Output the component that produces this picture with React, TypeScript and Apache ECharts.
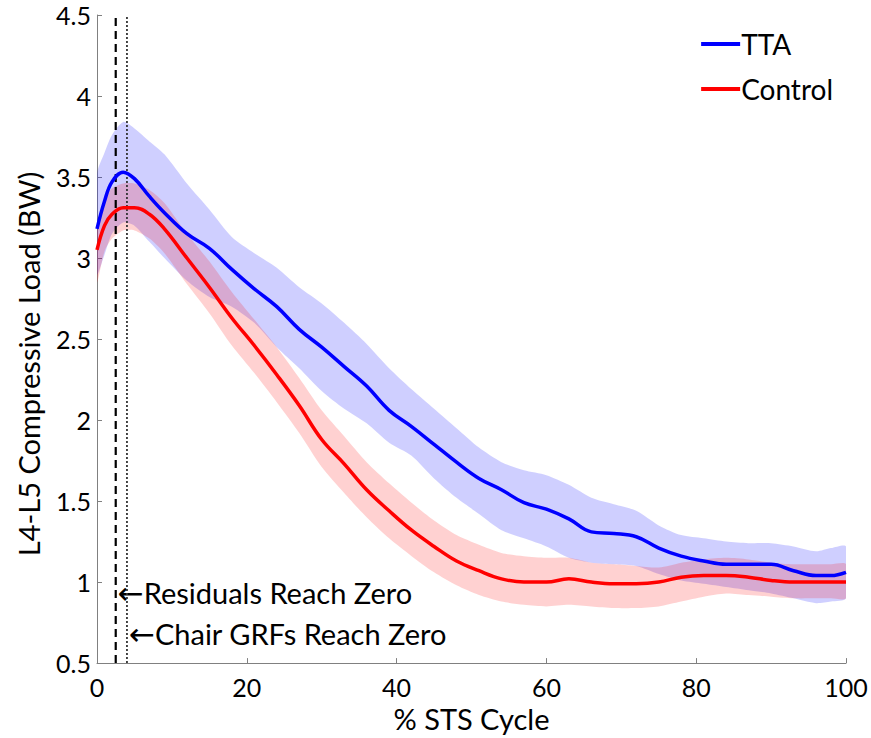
import React, { useEffect, useRef } from "react";
import * as echarts from "echarts";

const xs = [0, 1, 2, 3.5, 5, 7, 9, 12, 15, 18, 21, 24, 27, 30, 33, 36, 39, 42, 45, 48, 51, 54, 57, 60, 63, 66, 69, 72, 75, 78, 81, 84, 87, 90, 93, 96, 98, 100];

const ttaMean = [3.18, 3.35, 3.47, 3.53, 3.49, 3.38, 3.28, 3.15, 3.06, 2.93, 2.81, 2.7, 2.56, 2.45, 2.33, 2.21, 2.06, 1.96, 1.85, 1.74, 1.64, 1.57, 1.49, 1.45, 1.39, 1.31, 1.3, 1.28, 1.21, 1.16, 1.13, 1.11, 1.11, 1.11, 1.07, 1.04, 1.04, 1.06];
const ttaUpper = [3.52, 3.65, 3.76, 3.84, 3.8, 3.72, 3.64, 3.46, 3.3, 3.13, 3.03, 2.94, 2.82, 2.72, 2.6, 2.47, 2.32, 2.19, 2.07, 1.95, 1.83, 1.74, 1.69, 1.66, 1.6, 1.52, 1.48, 1.44, 1.35, 1.29, 1.27, 1.25, 1.24, 1.24, 1.22, 1.19, 1.21, 1.22];
const ttaLower = [2.9, 3.02, 3.15, 3.22, 3.2, 3.1, 3.0, 2.86, 2.76, 2.7, 2.6, 2.45, 2.32, 2.18, 2.07, 1.98, 1.86, 1.78, 1.64, 1.52, 1.42, 1.32, 1.27, 1.22, 1.15, 1.12, 1.11, 1.1, 1.05, 1.01, 0.99, 0.97, 0.95, 0.93, 0.9, 0.87, 0.88, 0.9];

const ctrlMean = [3.05, 3.2, 3.27, 3.31, 3.31, 3.27, 3.18, 3.0, 2.82, 2.63, 2.46, 2.28, 2.09, 1.88, 1.73, 1.57, 1.44, 1.32, 1.22, 1.13, 1.07, 1.02, 1.0, 1.0, 1.02, 1.0, 0.99, 0.99, 1.0, 1.03, 1.04, 1.04, 1.03, 1.01, 1.0, 1.0, 1.0, 1.0];
const ctrlUpper = [3.2, 3.36, 3.43, 3.46, 3.46, 3.42, 3.34, 3.15, 2.98, 2.79, 2.62, 2.45, 2.26, 2.06, 1.9, 1.74, 1.61, 1.49, 1.38, 1.29, 1.23, 1.18, 1.16, 1.15, 1.15, 1.12, 1.11, 1.1, 1.09, 1.12, 1.14, 1.15, 1.14, 1.12, 1.11, 1.11, 1.11, 1.11];
const ctrlLower = [2.85, 3.04, 3.12, 3.17, 3.17, 3.12, 3.03, 2.84, 2.66, 2.46, 2.29, 2.11, 1.92, 1.71, 1.55, 1.4, 1.27, 1.16, 1.06, 0.98, 0.92, 0.88, 0.86, 0.85, 0.86, 0.85, 0.84, 0.84, 0.85, 0.88, 0.91, 0.93, 0.92, 0.91, 0.9, 0.9, 0.9, 0.9];

const residualsX = 2.5;
const chairX = 4;
const yRange = [0.5, 4.5];
const annotations = [
  { x: 2.5, y: 0.935, text: "Residuals Reach Zero" },
  { x: 4, y: 0.68, text: "Chair GRFs Reach Zero" },
];
const yTitle = "L4-L5 Compressive Load (BW)";
const xTitle = "% STS Cycle";

const FONT = "Lato";

function pairs(x: number[], y: number[]) {
  return x.map((v, i) => [v, y[i]]);
}

function bandSeries(name: string, up: number[], lo: number[], fill: string) {
  return {
    name,
    type: "custom",
    silent: true,
    clip: true,
    data: [[xs[0], lo[0]]],
    renderItem: (_params: any, api: any) => {
      const pts: number[][] = [];
      for (let i = 0; i < xs.length; i++) pts.push(api.coord([xs[i], up[i]]));
      for (let i = xs.length - 1; i >= 0; i--) pts.push(api.coord([xs[i], lo[i]]));
      return {
        type: "polygon",
        shape: { points: pts, smooth: 0.25 },
        style: { fill, stroke: null },
      };
    },
  };
}

export default function App() {
  const ref = useRef<HTMLDivElement>(null);
  useEffect(() => {
    document.body.style.margin = "0";
    const chart = echarts.init(ref.current!, null, { renderer: "svg" });
    chart.setOption({
      animation: false,
      backgroundColor: "#fff",
      grid: { left: 97, right: 25, top: 15, bottom: 70, containLabel: false },
      legend: {
        orient: "vertical",
        right: 33,
        top: 25,
        itemGap: 17,
        itemWidth: 39,
        itemHeight: 4,
        icon: "rect",
        data: ["TTA", "Control"],
        textStyle: { fontFamily: FONT, fontSize: 28, color: "#000", padding: [0, 0, 0, -4] },
      },
      graphic: [
        {
          type: "text",
          x: 28,
          y: 364,
          rotation: Math.PI / 2,
          style: {
            text: yTitle,
            fontFamily: FONT,
            fontSize: 29,
            fill: "#000",
            align: "center",
            verticalAlign: "middle",
          },
        },
      ],
      xAxis: {
        type: "value",
        min: 0,
        max: 100,
        interval: 20,
        name: xTitle,
        nameLocation: "middle",
        nameGap: 36,
        nameTextStyle: { fontFamily: FONT, fontSize: 29, color: "#000" },
        axisLine: { show: true, lineStyle: { color: "#808080", width: 1 } },
        axisTick: { show: true, inside: true, length: 5, lineStyle: { color: "#808080" } },
        axisLabel: { fontFamily: FONT, fontSize: 25, color: "#000", margin: 11 },
        splitLine: { show: false },
      },
      yAxis: {
        type: "value",
        min: 0.5,
        max: 4.5,
        interval: 0.5,
        axisLine: { show: true, lineStyle: { color: "#808080", width: 1 } },
        axisTick: { show: true, inside: true, length: 5, lineStyle: { color: "#808080" } },
        axisLabel: { fontFamily: FONT, fontSize: 25, color: "#000", margin: 6, padding: [10, 0, 0, 0] },
        splitLine: { show: false },
      },
      series: [
        bandSeries("ttaBand", ttaUpper, ttaLower, "rgba(0,0,255,0.19)"),
        bandSeries("ctrlBand", ctrlUpper, ctrlLower, "rgba(255,0,0,0.18)"),
        {
          name: "residuals",
          type: "line",
          data: [[residualsX, yRange[0]], [residualsX, yRange[1]]],
          symbol: "none",
          lineStyle: { color: "#000", width: 2.2, type: [8, 5] },
          silent: true,
        },
        {
          name: "chair",
          type: "line",
          data: [[chairX, yRange[0]], [chairX, yRange[1]]],
          symbol: "none",
          lineStyle: { color: "#333", width: 1.8, type: [2, 2] },
          silent: true,
        },
        {
          name: "TTA",
          type: "line",
          data: pairs(xs, ttaMean),
          smooth: 0.4,
          symbol: "none",
          color: "#0000ff",
          lineStyle: { color: "#0000ff", width: 3.5 },
        },
        {
          name: "Control",
          type: "line",
          data: pairs(xs, ctrlMean),
          smooth: 0.4,
          symbol: "none",
          color: "#ff0000",
          lineStyle: { color: "#ff0000", width: 3.5 },
        },
        {
          name: "annot",
          type: "scatter",
          symbolSize: 0,
          silent: true,
          itemStyle: { opacity: 1 },
          data: annotations.map((a) => ({ value: [a.x, a.y], name: a.text })),
          label: {
            show: true,
            opacity: 1,
            position: "right",
            distance: 2,
            color: "#000",
            formatter: (p: any) => "{a|←}{t|" + p.name + "}",
            rich: {
              a: { fontFamily: "DejaVu Sans", fontSize: 31, color: "#000", opacity: 1 },
              t: { fontFamily: FONT, fontSize: 29, color: "#000", opacity: 1 },
            },
          },
        },
      ],
    });
    return () => chart.dispose();
  }, []);
  return <div ref={ref} style={{ width: 871, height: 738 }} />;
}
